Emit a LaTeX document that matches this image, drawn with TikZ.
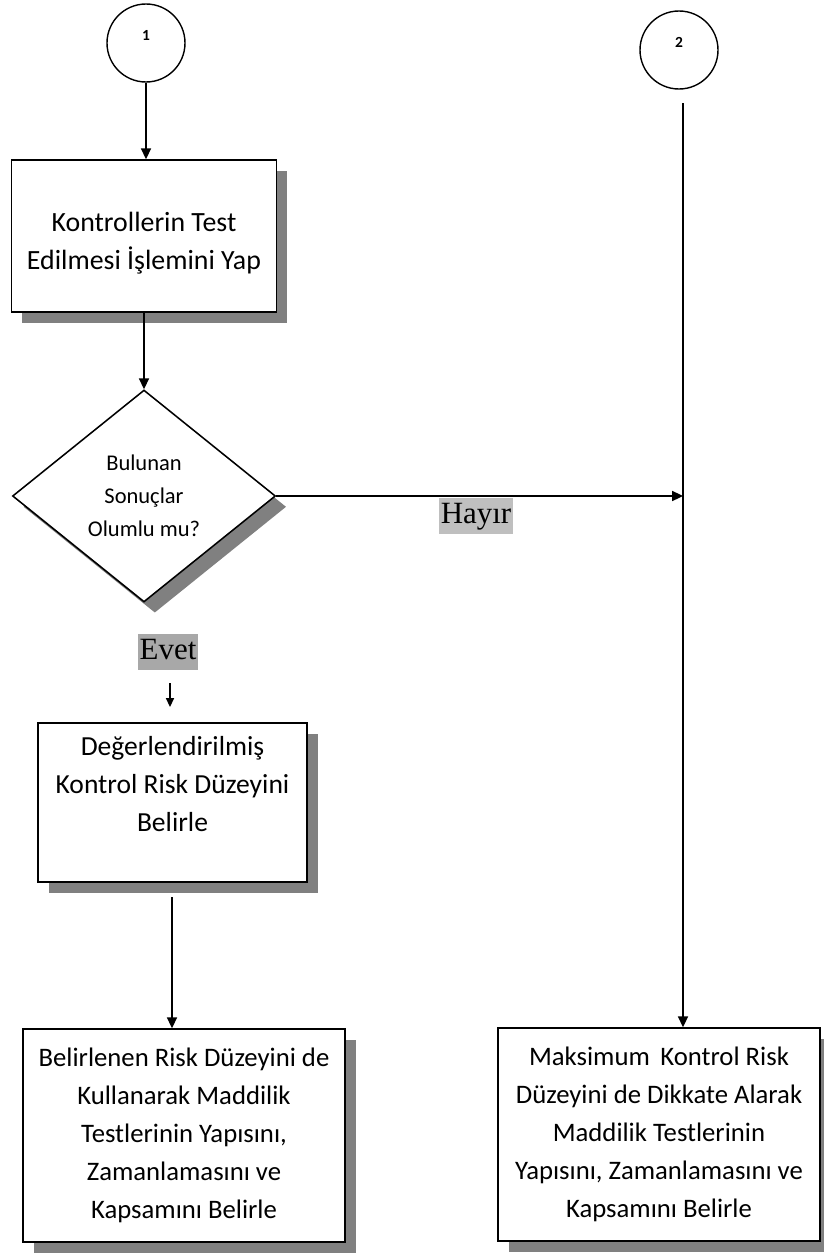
\documentclass[tikz,border=0pt]{standalone}
\usepackage{fontspec}
\setmainfont{Carlito}
\newfontfamily\etiketfont{Liberation Serif}
\usetikzlibrary{arrows.meta,positioning,calc,shapes.geometric,shadows}

\begin{document}
\begin{tikzpicture}[
  golge/.style={drop shadow={shadow xshift=0.27cm, shadow yshift=-0.27cm, fill=black!50, opacity=1}},
  kutu/.style={draw, line width=1.1pt, fill=white, align=center, golge,
               font=\fontsize{19}{27}\selectfont},
  karar/.style={draw, diamond, line width=1.1pt, fill=white, align=center, golge,
                inner sep=0pt, aspect=1.24, font=\fontsize{16}{23.5}\selectfont},
  baglanti/.style={draw, circle, line width=1pt, minimum size=1.95cm, inner sep=0pt,
                   font=\fontsize{11}{13}\selectfont\bfseries},
  etiket/.style={inner xsep=1.5pt, inner ysep=1.3pt, text height=17pt, text depth=6pt,
                 font=\etiketfont\fontsize{22}{26}\selectfont},
  ok/.style={line width=1.1pt, -{Triangle[length=0.27cm,width=0.25cm]}}
]
\useasboundingbox (0,0) rectangle (20.575,-31.375);

% baglanti noktalari
\node[baglanti] (c1) at (3.65,-1.075) {\raisebox{0.2cm}[\height][\depth]{1}};
\node[baglanti] (c2) at (16.975,-1.25) {\raisebox{0.2cm}[\height][\depth]{2}};

% sol kol
\node[kutu, minimum width=6.625cm, minimum height=3.8cm, font=\fontsize{19.8}{27}\selectfont] (kontrol) at (3.6,-5.9)
  {\raisebox{-0.18cm}[\height][\depth]{\begin{tabular}{@{}c@{}}Kontrollerin Test\\Edilmesi İşlemini Yap\end{tabular}}};
\node[karar, minimum width=6.575cm, minimum height=5.3cm] (sonuc) at (3.6,-12.4)
  {Bulunan\\Sonuçlar\\Olumlu mu?};
\node[etiket, fill=black!34] (evet) at (4.2,-16.3) {Evet};
\node[kutu, minimum width=6.725cm, minimum height=3.975cm, font=\fontsize{19.6}{27}\selectfont] (deger) at (4.3125,-20.0625)
  {\raisebox{0.41cm}[\height][\depth]{\begin{tabular}{@{}c@{}}Değerlendirilmiş\\Kontrol Risk Düzeyini\\Belirle\end{tabular}}};
\node[kutu, minimum width=8.05cm, minimum height=5.325cm] (belir) at (4.6,-28.3875)
  {Belirlenen Risk Düzeyini de\\Kullanarak Maddilik\\Testlerinin Yapısını,\\Zamanlamasını ve\\Kapsamını Belirle};

% sag kol
\node[etiket, fill=black!25] (hayir) at (11.9,-12.9) {Hayır};
\node[kutu, minimum width=8.05cm, minimum height=5.325cm] (maks) at (16.475,-28.3625)
  {Maksimum\, Kontrol Risk\\Düzeyini de Dikkate Alarak\\Maddilik Testlerinin\\Yapısını, Zamanlamasını ve\\Kapsamını Belirle};

\coordinate (hat) at (17.075,-2.575);
\coordinate (e0) at (4.25,-17.075);
\coordinate (e1) at (4.25,-17.675);
\coordinate (d0) at (4.3,-22.425);

\draw[ok] (c1.south) -- (c1.south |- kontrol.north);
\draw[ok] (kontrol.south) -- (sonuc.north);
\draw[ok] (sonuc.east) -- (sonuc.east -| hat);
\draw[line width=0.9pt, -{Triangle[length=0.22cm,width=0.2cm]}] (e0) -- (e1);
\draw[ok] (d0) -- (d0 |- belir.north);
\draw[ok] (hat) -- (hat |- maks.north);
\end{tikzpicture}
\end{document}
